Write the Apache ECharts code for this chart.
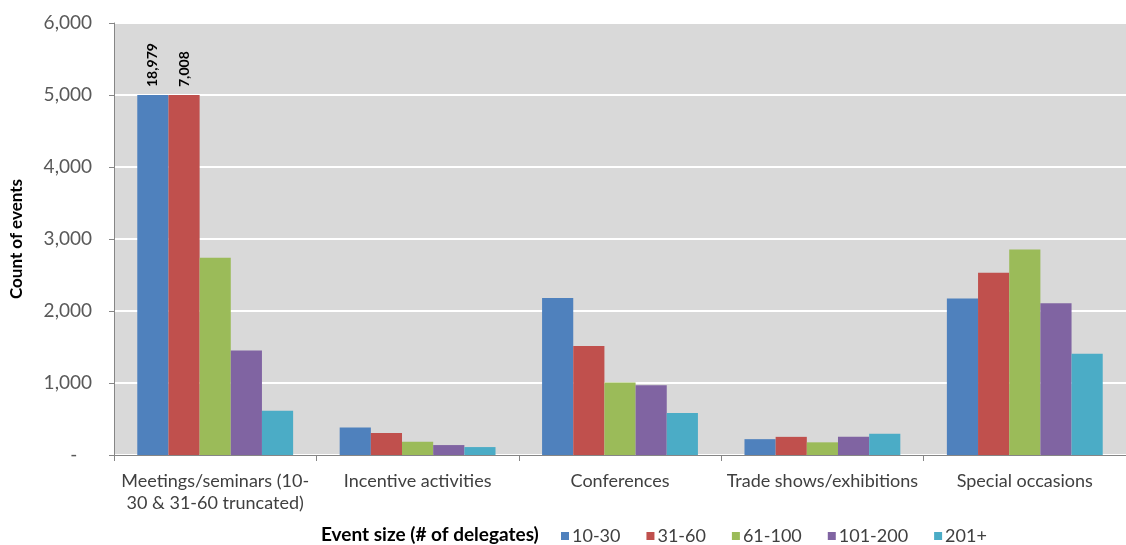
<!DOCTYPE html>
<html>
<head>
<meta charset="utf-8">
<script src="https://cdn.jsdelivr.net/npm/echarts@6/dist/echarts.min.js"></script>
<style>
html,body{margin:0;padding:0;background:#fff;}
#chart{width:1126px;height:545px;}
</style>
</head>
<body>
<div id="chart"></div>
<script>
const categories = ['Meetings/seminars (10-\n30 & 31-60 truncated)', 'Incentive activities', 'Conferences', 'Trade shows/exhibitions', 'Special occasions'];
const seriesNames = ['10-30', '31-60', '61-100', '101-200', '201+'];
const s10_30   = [5000, 382, 2180, 220, 2172];
const s31_60   = [5000, 306, 1514, 252, 2532];
const s61_100  = [2740, 184, 1006, 176, 2855];
const s101_200 = [1450, 138, 970, 255, 2108];
const s201p    = [615, 110, 582, 295, 1406];
const truncatedLabels = ['18,979', '7,008'];
const yTicks = [0, 1000, 2000, 3000, 4000, 5000, 6000];

const colors = ['#4f81bd', '#c0504d', '#9bbb59', '#8064a2', '#4bacc6'];
const FONT = 'Lato';
const allData = [s10_30, s31_60, s61_100, s101_200, s201p];

function fmt(v){
  if (v === 0) return '-   ';
  return v.toString().replace(/\B(?=(\d{3})+(?!\d))/g, ',');
}

const series = allData.map((d, i) => ({
  name: seriesNames[i],
  type: 'bar',
  barGap: '0%',
  barCategoryGap: '23%',
  itemStyle: { color: colors[i] },
  data: d.map((v, j) => {
    if (j === 0 && i < truncatedLabels.length) {
      return {
        value: v,
        label: {
          show: true,
          position: 'top',
          rotate: 90,
          align: 'left',
          verticalAlign: 'middle',
          distance: 8,
          formatter: truncatedLabels[i],
          fontFamily: FONT,
          fontSize: 14,
          fontWeight: 'bold',
          color: '#000'
        }
      };
    }
    return v;
  })
}));

const chart = echarts.init(document.getElementById('chart'));
chart.setOption({
  animation: false,
  backgroundColor: '#ffffff',
  textStyle: { fontFamily: FONT },
  title: {
    text: 'Event size (# of delegates)',
    left: 316,
    top: 520,
    textStyle: { fontFamily: FONT, fontSize: 19, fontWeight: 'bold', color: '#000' }
  },
  legend: {
    data: seriesNames,
    left: 556,
    top: 522,
    icon: 'rect',
    itemWidth: 8,
    itemHeight: 8,
    itemGap: 26,
    textStyle: { fontFamily: FONT, fontSize: 18, color: '#404040', padding: [0, 0, 0, -2] }
  },
  grid: {
    left: 111,
    right: -8,
    top: 23,
    bottom: 90,
    show: true,
    backgroundColor: '#d9d9d9',
    borderWidth: 0
  },
  xAxis: {
    type: 'category',
    data: categories,
    axisLine: { show: true, lineStyle: { color: '#868686', width: 1 } },
    axisTick: { show: true, length: 6, lineStyle: { color: '#868686' } },
    axisLabel: {
      fontFamily: FONT, fontSize: 18, color: '#404040', margin: 15, lineHeight: 22, interval: 0
    },
    splitLine: { show: false }
  },
  yAxis: {
    type: 'value',
    min: yTicks[0],
    max: yTicks[yTicks.length - 1],
    interval: 1000,
    name: 'Count of events',
    nameLocation: 'middle',
    nameGap: 89,
    nameTextStyle: { fontFamily: FONT, fontSize: 17, fontWeight: 'bold', color: '#000' },
    axisLine: { show: true, lineStyle: { color: '#868686' } },
    axisTick: { show: true, length: 5, lineStyle: { color: '#868686' } },
    axisLabel: { fontFamily: FONT, fontSize: 19, color: '#595959', margin: 22, formatter: fmt },
    splitLine: { show: true, lineStyle: { color: '#ffffff', width: 2 } }
  },
  series: series
});
</script>
</body>
</html>
